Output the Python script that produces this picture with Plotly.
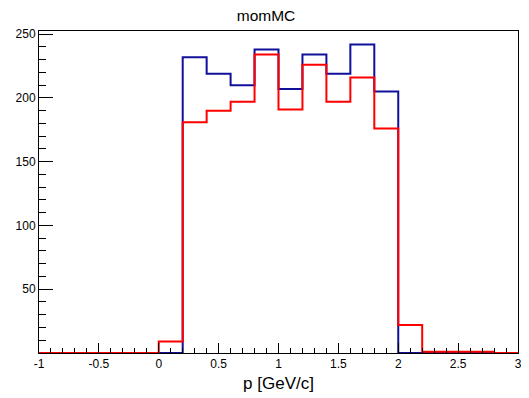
import plotly.graph_objects as go

# Blue histogram: bins of width 0.2 from 0 to 2.8
blue_edges = [round(0.2 * i, 1) for i in range(15)]
blue_counts = [0, 232, 219, 210, 238, 207, 234, 219, 242, 205, 0, 0, 0, 0]

# Red histogram: bins of width 0.2 from -1 to 3
red_edges = [round(-1 + 0.2 * i, 1) for i in range(21)]
red_counts = [0, 0, 0, 0, 0, 9, 181, 190, 197, 234, 191, 226, 197, 216, 176, 22, 1, 1, 1, 0]

x_ticks = [-1, -0.5, 0, 0.5, 1, 1.5, 2, 2.5, 3]
x_ticktext = ["-1", "-0.5", "0", "0.5", "1", "1.5", "2", "2.5", "3"]
y_ticks = [50, 100, 150, 200, 250]

# page body has an 8px default margin; the figure fills the rest of the window
W, H = 521, 390

fig = go.Figure()
fig.add_trace(go.Scatter(
    x=blue_edges, y=blue_counts + [blue_counts[-1]],
    mode="lines", line=dict(shape="hv", color="#10109a", width=2),
    showlegend=False, hoverinfo="skip"))
fig.add_trace(go.Scatter(
    x=red_edges, y=red_counts + [red_counts[-1]],
    mode="lines", line=dict(shape="hv", color="#ff0000", width=2),
    showlegend=False, hoverinfo="skip"))

fig.update_layout(
    width=W, height=H,
    margin=dict(l=31, r=11, t=23, b=45, autoexpand=False),
    paper_bgcolor="white", plot_bgcolor="white",
    font=dict(family="Liberation Sans, Arial, sans-serif", color="black", size=12),
    title=dict(text="momMC", x=0.474, xanchor="center", xref="paper",
               y=1, yref="container", yanchor="top", pad=dict(t=2),
               font=dict(size=15.5)),
)
fig.update_xaxes(
    range=[-1, 3], showgrid=False, zeroline=False, automargin=False,
    showline=True, linecolor="black", linewidth=1, mirror=True,
    ticks="inside", ticklen=10, tickcolor="black",
    tickvals=x_ticks, ticktext=x_ticktext,
    minor=dict(dtick=0.1, ticks="inside", ticklen=5, tickcolor="black", showgrid=False),
    title=dict(text="p [GeV/c]", font=dict(size=17), standoff=6),
)
fig.update_yaxes(
    range=[0, 252.5], showgrid=False, zeroline=False, automargin=False,
    showline=True, linecolor="black", linewidth=1, mirror=True,
    ticks="inside", ticklen=14, tickcolor="black",
    tickvals=y_ticks,
    minor=dict(tick0=0, dtick=10, ticks="inside", ticklen=7, tickcolor="black", showgrid=False),
)

fig.write_html("out.html")
